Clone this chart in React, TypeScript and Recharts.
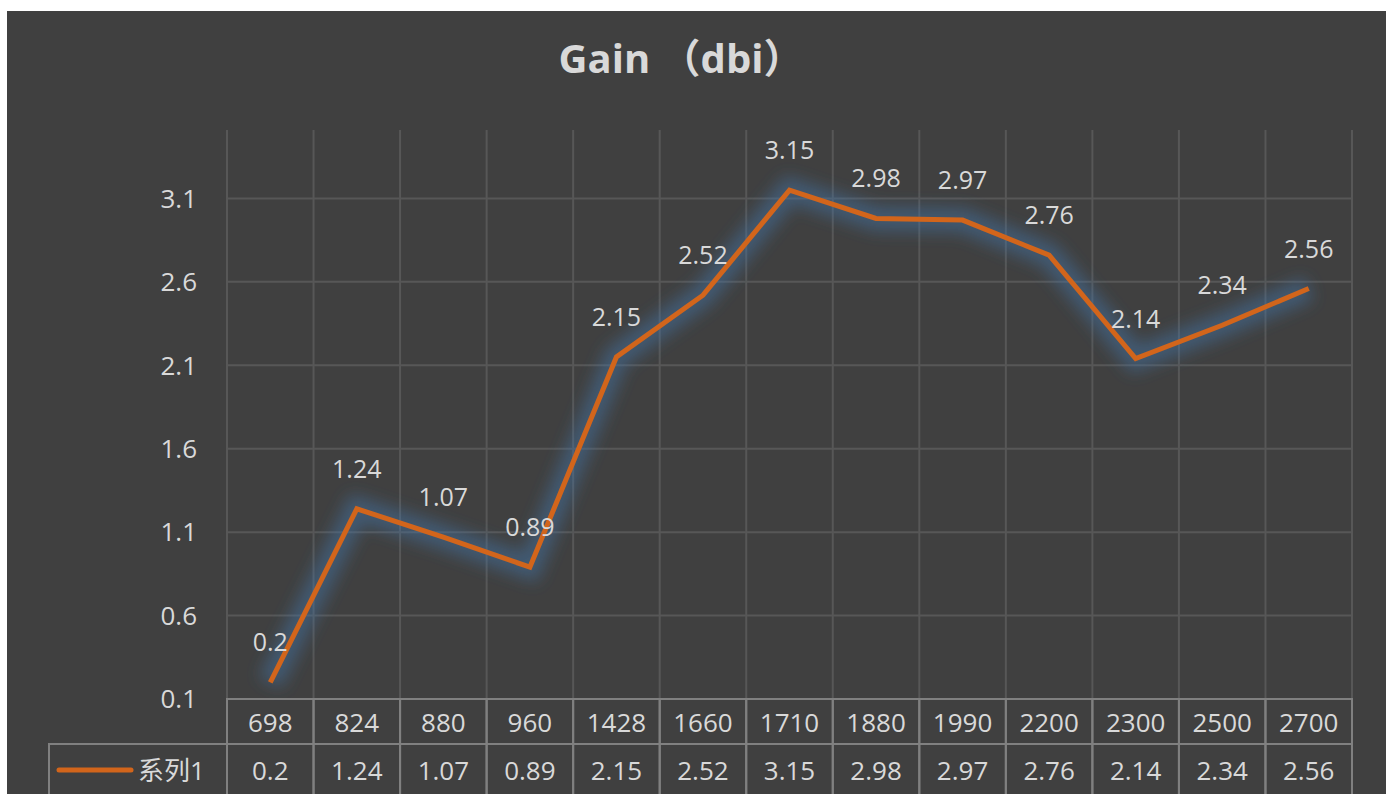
import React from "react";
import { LineChart, Line, XAxis, YAxis, CartesianGrid, LabelList } from "recharts";

const freqs = ["698", "824", "880", "960", "1428", "1660", "1710", "1880", "1990", "2200", "2300", "2500", "2700"];
const gains = [0.2, 1.24, 1.07, 0.89, 2.15, 2.52, 3.15, 2.98, 2.97, 2.76, 2.14, 2.34, 2.56];
const yTicks = [0.1, 0.6, 1.1, 1.6, 2.1, 2.6, 3.1];
const seriesName = "系列1";

const data = freqs.map((f, i) => ({ freq: f, gain: gains[i] }));

const Y_MIN = 0.1;
const Y_MAX = 3.51;

const W = 1379;
const H = 800;
const PLOT_LEFT = 220;
const PLOT_RIGHT = 34;
const PLOT_TOP = 119;
const PLOT_W = W - PLOT_LEFT - PLOT_RIGHT;
const BAND = PLOT_W / freqs.length;
const ROW1 = 45;
const ROW2 = 80;

const FONT = '"Open Sans", "Noto Sans CJK SC", sans-serif';
const TXT = "#D9D9D9";
const BORDER = "#808080";
const ORANGE = "#D2651B";

function TableTick(props: any) {
  const { x, y, index } = props;
  const left = x - BAND / 2;
  return (
    <g>
      <rect x={left} y={y} width={BAND} height={ROW1} fill="none" stroke={BORDER} strokeWidth={2} />
      <rect x={left} y={y + ROW1} width={BAND} height={ROW2} fill="none" stroke={BORDER} strokeWidth={2} />
      <text x={x} y={y + ROW1 / 2} textAnchor="middle" dominantBaseline="central" fill={TXT} fontSize={26} fontFamily={FONT}>
        {freqs[index]}
      </text>
      <text x={x} y={y + ROW1 + 26} textAnchor="middle" dominantBaseline="central" fill={TXT} fontSize={26} fontFamily={FONT}>
        {gains[index]}
      </text>
      {index === 0 && (
        <g>
          <rect x={42} y={y + ROW1} width={left - 42} height={ROW2} fill="none" stroke={BORDER} strokeWidth={2} />
          <line x1={52} x2={124} y1={y + ROW1 + 26} y2={y + ROW1 + 26} stroke={ORANGE} strokeWidth={5} strokeLinecap="round" />
          <text x={131} y={y + ROW1 + 26} dominantBaseline="central" fill={TXT} fontSize={26} fontFamily={FONT}>
            {seriesName}
          </text>
        </g>
      )}
    </g>
  );
}

export default function App() {
  return (
    <div
      style={{
        position: "fixed",
        left: 7,
        top: 11,
        width: W,
        height: 783,
        overflow: "hidden",
        background: "#404040",
      }}
    >
      <LineChart
        width={W}
        height={H}
        data={data}
        margin={{ top: PLOT_TOP, right: PLOT_RIGHT, left: 0, bottom: 0 }}
      >
        <defs>
          <filter id="glow" x="-20%" y="-20%" width="140%" height="140%">
            <feGaussianBlur stdDeviation="8" />
          </filter>
        </defs>
        <text x={674} y={46} textAnchor="middle" dominantBaseline="central" fill={TXT} fontSize={40} fontWeight="bold" fontFamily={FONT}>
          Gain （dbi）
        </text>
        <CartesianGrid
          stroke="#575757"
          strokeWidth={2}
          horizontalCoordinatesGenerator={({ offset }: any) =>
            yTicks.map((t) => offset.top + (offset.height * (Y_MAX - t)) / (Y_MAX - Y_MIN))
          }
          verticalCoordinatesGenerator={({ offset }: any) =>
            Array.from({ length: freqs.length + 1 }, (_, i) => offset.left + (i * offset.width) / freqs.length)
          }
        />
        <XAxis
          dataKey="freq"
          axisLine={false}
          tickLine={false}
          tickSize={0}
          tickMargin={0}
          height={112}
          interval={0}
          padding={{ left: BAND / 2, right: BAND / 2 }}
          tick={<TableTick />}
        />
        <YAxis
          domain={[Y_MIN, Y_MAX]}
          ticks={yTicks}
          width={PLOT_LEFT}
          axisLine={false}
          tickLine={false}
          tickSize={0}
          tickMargin={30}
          tick={{ fill: TXT, fontSize: 26, fontFamily: FONT }}
        />
        <Line
          dataKey="gain"
          stroke="#3f73a6"
          strokeOpacity={0.5}
          strokeWidth={24}
          dot={false}
          activeDot={false}
          filter="url(#glow)"
          isAnimationActive={false}
        />
        <Line
          dataKey="gain"
          stroke={ORANGE}
          strokeWidth={5}
          strokeLinejoin="miter"
          dot={false}
          activeDot={false}
          isAnimationActive={false}
        >
          <LabelList dataKey="gain" position="top" offset={31} fill={TXT} fontSize={25} fontFamily={FONT} />
        </Line>
      </LineChart>
    </div>
  );
}
